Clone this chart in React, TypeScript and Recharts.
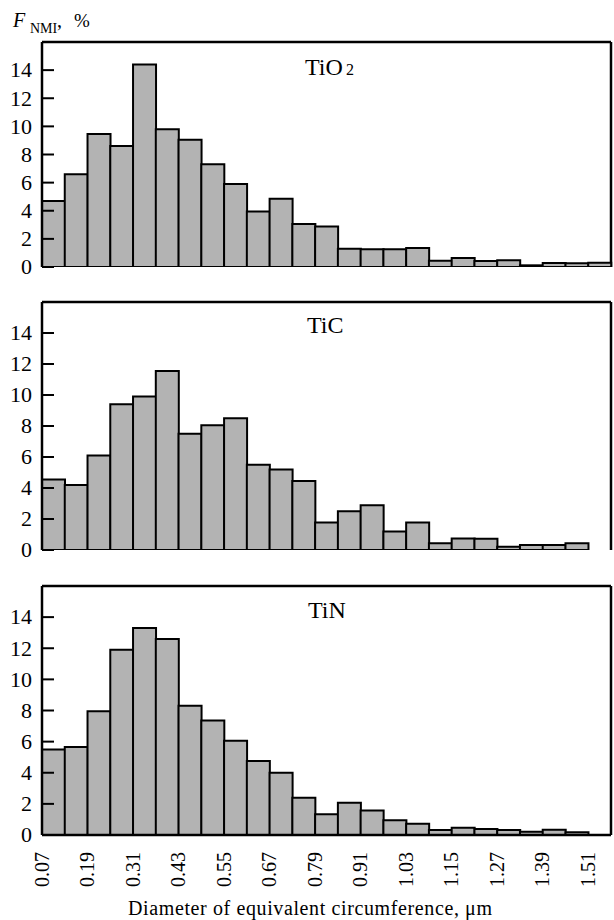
import React from "react";
import { BarChart, Bar, XAxis, YAxis, CartesianGrid } from "recharts";

const bins = ["0.07","0.13","0.19","0.25","0.31","0.37","0.43","0.49","0.55","0.61","0.67","0.73","0.79","0.85","0.91","0.97","1.03","1.09","1.15","1.21","1.27","1.33","1.39","1.45","1.51"];
const tio2 = [4.7,6.6,9.45,8.6,14.4,9.8,9.05,7.3,5.9,3.95,4.85,3.05,2.88,1.3,1.27,1.27,1.35,0.45,0.64,0.42,0.48,0.12,0.28,0.27,0.3];
const tic = [4.55,4.2,6.1,9.4,9.9,11.55,7.5,8.05,8.5,5.5,5.2,4.45,1.77,2.5,2.88,1.2,1.77,0.43,0.75,0.72,0.21,0.32,0.32,0.43,0];
const tin = [5.5,5.65,7.95,11.9,13.3,12.6,8.3,7.35,6.05,4.75,4.0,2.4,1.34,2.08,1.57,0.95,0.72,0.32,0.47,0.38,0.32,0.21,0.34,0.17,0];
const xTickLabels = ["0.07","0.19","0.31","0.43","0.55","0.67","0.79","0.91","1.03","1.15","1.27","1.39","1.51"];
const yTicks = [0,2,4,6,8,10,12,14];
const yDomain = [0, 16];

const FONT = "Liberation Serif, DejaVu Serif, serif";
const frame = { stroke: "#000", strokeWidth: 2.5 };

const YTick = (p: any) => (
  <g>
    <line x1={p.x} x2={p.x + 12} y1={p.y} y2={p.y} stroke="#000" strokeWidth={2} />
    <text x={p.x - 10} y={p.y} dy="0.33em" textAnchor="end" style={{ fontFamily: FONT }} fontSize={22} fill="#000">
      {p.payload.value}
    </text>
  </g>
);

const XTick = (p: any) => {
  const off = p.payload && typeof p.payload.offset === "number" ? p.payload.offset : 0;
  const x = p.x - off;
  const ty = p.y + 17;
  return (
    <text x={x} y={ty} dy="0.33em" textAnchor="end" transform={`rotate(-90, ${x}, ${ty})`} style={{ fontFamily: FONT }} fontSize={20} fill="#000">
      {p.payload.value}
    </text>
  );
};

function Panel({ values, top, plotH, showX }: { values: number[]; top: number; plotH: number; showX: boolean }) {
  const data = bins.map((b, i) => ({ bin: b, v: values[i] }));
  const mt = 4;
  const mb = 12;
  const xH = showX ? 60 : 0;
  return (
    <div style={{ position: "absolute", left: 0, top: top - mt }}>
      <BarChart width={614} height={plotH + mt + xH + mb} data={data} margin={{ top: mt, right: 3, bottom: mb, left: 0 }} barCategoryGap={0} barGap={0}>
        <CartesianGrid
          stroke="#000"
          strokeWidth={2.5}
          horizontalCoordinatesGenerator={(a: any) => [a.offset.top]}
          verticalCoordinatesGenerator={(a: any) => [a.offset.left + a.offset.width]}
        />
        <XAxis dataKey="bin" ticks={xTickLabels} interval={0} height={xH} axisLine={frame} tickLine={false} tickSize={0} tickMargin={0} tick={showX ? <XTick /> : false} />
        <YAxis type="number" domain={yDomain} ticks={yTicks} allowDataOverflow width={42} axisLine={frame} tickLine={false} tickSize={0} tickMargin={0} tick={<YTick />} interval={0} />
        <Bar dataKey="v" fill="#b3b3b3" stroke="#000" strokeWidth={2} isAnimationActive={false} />
      </BarChart>
    </div>
  );
}

export default function App() {
  return (
    <div style={{ position: "absolute", left: 0, top: 0, width: 614, height: 920, background: "#fff" }}>
      <Panel values={tio2} top={42} plotH={225} showX={false} />
      <Panel values={tic} top={302} plotH={248} showX={false} />
      <Panel values={tin} top={586} plotH={249} showX={true} />
      <svg width={614} height={920} style={{ position: "absolute", left: 0, top: 0, pointerEvents: "none", fontFamily: FONT }}>
        <g fill="#000">
          <text x={13} y={27} fontSize={20} fontStyle="italic">F</text>
          <text x={30} y={33} fontSize={14}>NMI</text>
          <text x={57} y={27} fontSize={20}>,</text>
          <text x={74} y={27} fontSize={19}>%</text>
          <text x={305} y={75} fontSize={24}>TiO</text>
          <text x={346} y={75} fontSize={16}>2</text>
          <text x={307} y={333} fontSize={24}>TiC</text>
          <text x={308} y={618} fontSize={24}>TiN</text>
          <text x={128} y={915} fontSize={20} textLength={364} lengthAdjust="spacing">Diameter of equivalent circumference, μm</text>
        </g>
      </svg>
    </div>
  );
}
